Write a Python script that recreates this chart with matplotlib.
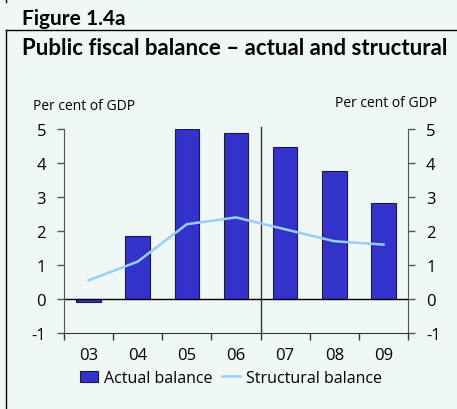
import matplotlib
matplotlib.use("Agg")
import matplotlib.pyplot as plt
from matplotlib.lines import Line2D
from matplotlib.patches import Patch

plt.rcParams['font.family'] = ['Open Sans', 'DejaVu Sans']

years = ["03", "04", "05", "06", "07", "08", "09"]
actual = [-0.1, 1.86, 5.0, 4.87, 4.46, 3.76, 2.81]
structural = [0.55, 1.1, 2.2, 2.4, 2.05, 1.7, 1.6]
yticks = [-1, 0, 1, 2, 3, 4, 5]

W, H = 457, 410
bg = "#eff8f5"
fig = plt.figure(figsize=(W/100, H/100), dpi=100, facecolor=bg)

def fx(px): return px / W
def fy(py): return 1 - py / H

# frame lines
fig.add_artist(Line2D([fx(6), fx(6)], [fy(31), fy(410)], color="black", lw=1))
fig.add_artist(Line2D([fx(6), fx(6)], [fy(0), fy(3)], color="black", lw=1))
fig.add_artist(Line2D([fx(6), 1], [fy(31), fy(31)], color="black", lw=1))

fig.text(fx(22), fy(25), "Figure 1.4a", fontsize=15, fontweight="bold", ha="left",
         va="baseline", family=["Lato", "DejaVu Sans"])
fig.text(fx(22), fy(55), "Public fiscal balance – actual and structural", fontsize=16,
         fontweight="bold", ha="left", va="baseline", family=["Lato", "DejaVu Sans"])
fig.text(fx(33), fy(110), "Per cent of GDP", fontsize=10, ha="left", va="baseline")
fig.text(fx(437), fy(107), "Per cent of GDP", fontsize=10, ha="right", va="baseline")

ax = fig.add_axes([fx(64), fy(334), fx(408) - fx(64), fy(130) - fy(334)])
ax.set_facecolor(bg)
x = list(range(len(years)))
ax.bar(x, actual, width=0.5, color="#3333cc", edgecolor="#1a1a40", linewidth=0.8, zorder=2)
ax.plot(x, structural, color="#99ccff", lw=1.8, zorder=3)
ax.axhline(0, color="black", lw=1, zorder=2.5)
ax.axvline(3.5, ymin=0, ymax=1.01, color="#333333", lw=1, clip_on=False, zorder=1)

ax.set_xlim(-0.5, 6.5)
ax.set_ylim(-1, 5)
ax.set_yticks(yticks)
ax.set_yticklabels([str(v) for v in yticks])
ax.tick_params(axis="y", which="both", direction="out", length=5, width=1, color="#555555",
               left=True, right=True, labelleft=True, labelright=True, labelsize=12, pad=8)
ax.set_xticks([i - 0.5 for i in range(len(years) + 1)])
ax.set_xticklabels([])
ax.set_xticks(x, minor=True)
ax.set_xticklabels(years, minor=True)
ax.tick_params(axis="x", which="major", direction="out", length=5, width=1, color="#333333")
ax.tick_params(axis="x", which="minor", length=0, labelsize=12, pad=10)

ax.spines["top"].set_visible(False)
for s in ("left", "right"):
    ax.spines[s].set_color("#555555")
ax.spines["bottom"].set_color("#333333")

handles = [Patch(facecolor="#3333cc", edgecolor="#1a1a40", linewidth=0.8),
           Line2D([0], [0], color="#99ccff", lw=1.8)]
fig.legend(handles, ["Actual balance", "Structural balance"], loc="center",
           bbox_to_anchor=(fx(231), fy(379)), ncol=2, frameon=False, fontsize=11.5,
           handlelength=1.15, handletextpad=0.35, columnspacing=0.6)

fig.savefig("out.png", dpi=100, facecolor=bg)
